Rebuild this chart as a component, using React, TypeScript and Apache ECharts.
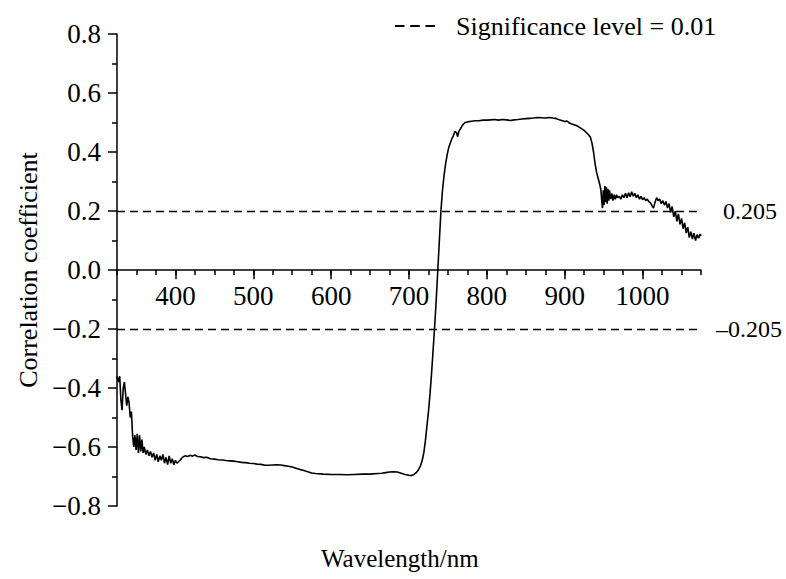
import React, { useEffect, useRef } from "react";
import * as echarts from "echarts";

const wavelengths: number[] = [
  325, 327, 328.5, 330, 331.5, 333, 334.5, 336, 337.5, 339, 340.5, 342, 343.5, 345, 346.5, 348, 349.5, 351, 352.5, 354,
  355.5, 357, 358.5, 360, 362, 364, 366, 368, 370, 372, 374, 376, 378, 380, 382, 384, 386, 388, 390, 392,
  394, 396, 398, 400, 402, 404, 406, 408, 410, 413, 416, 419, 422, 425, 428, 432, 436, 440, 445, 450,
  455, 460, 465, 470, 475, 480, 485, 490, 495, 500, 505, 510, 515, 520, 525, 530, 535, 540, 545, 550,
  555, 560, 565, 570, 575, 580, 590, 600, 610, 620, 630, 640, 650, 660, 665, 670, 675, 680, 685, 690,
  695, 700, 703, 706, 709, 712, 715, 717, 719, 721, 723, 725, 727, 729, 731, 733, 735, 737, 739, 741,
  743, 745, 747, 749, 751, 753, 755, 757, 759, 761, 762.5, 764, 766, 768, 770, 772, 775, 780, 785, 790,
  795, 800, 805, 810, 815, 820, 825, 830, 835, 840, 845, 850, 855, 860, 865, 870, 875, 880, 885, 888,
  892, 896, 900, 903, 906, 909, 912, 915, 918, 921, 924, 927, 930, 933, 935, 937, 939, 941, 943, 945,
  946.5, 947.5, 948.5, 949.5, 950.5, 951.5, 952.5, 953.5, 954.5, 955.5, 956.5, 957.5, 959, 960.5, 962, 963.5, 965, 966.5, 968, 970,
  972, 974, 976, 978, 980, 982, 984, 986, 988, 990, 992, 994, 996, 998, 1000, 1002, 1004, 1006, 1008, 1010,
  1012, 1014, 1016, 1018, 1020, 1022, 1024, 1026, 1028, 1030, 1032, 1034, 1036, 1038, 1040, 1042, 1044, 1046, 1048, 1050,
  1052, 1054, 1056, 1058, 1060, 1062, 1064, 1066, 1068, 1070, 1072, 1074, 1075,
];

const correlation: number[] = [
  -0.36, -0.38, -0.36, -0.44, -0.475, -0.4, -0.38, -0.42, -0.46, -0.43, -0.45, -0.5, -0.48, -0.56, -0.6, -0.56, -0.61, -0.555, -0.62, -0.56,
  -0.615, -0.575, -0.62, -0.6, -0.625, -0.61, -0.63, -0.615, -0.635, -0.62, -0.645, -0.625, -0.65, -0.63, -0.645, -0.625, -0.655, -0.635, -0.66, -0.63,
  -0.655, -0.64, -0.66, -0.645, -0.655, -0.65, -0.645, -0.638, -0.633, -0.63, -0.632, -0.628, -0.631, -0.627, -0.632, -0.633, -0.636, -0.635, -0.64, -0.641,
  -0.643, -0.644, -0.646, -0.647, -0.648, -0.65, -0.652, -0.653, -0.655, -0.656, -0.658, -0.659, -0.662, -0.662, -0.661, -0.66, -0.661, -0.663, -0.665, -0.668,
  -0.672, -0.676, -0.68, -0.684, -0.688, -0.69, -0.692, -0.693, -0.693, -0.694, -0.693, -0.692, -0.692, -0.69, -0.689, -0.687, -0.685, -0.684, -0.685, -0.689,
  -0.693, -0.696, -0.697, -0.694, -0.688, -0.678, -0.662, -0.645, -0.62, -0.58, -0.53, -0.48, -0.42, -0.35, -0.27, -0.19, -0.1, 0.0, 0.1, 0.2,
  0.27, 0.32, 0.36, 0.39, 0.415, 0.43, 0.445, 0.455, 0.47, 0.465, 0.452, 0.47, 0.478, 0.488, 0.495, 0.5, 0.502, 0.504, 0.506, 0.506,
  0.508, 0.508, 0.509, 0.51, 0.508, 0.51, 0.509, 0.507, 0.509, 0.51, 0.512, 0.513, 0.514, 0.515, 0.517, 0.516, 0.515, 0.517, 0.515, 0.514,
  0.51, 0.507, 0.503, 0.505, 0.498, 0.495, 0.492, 0.49, 0.485, 0.48, 0.475, 0.468, 0.46, 0.45, 0.43, 0.4, 0.36, 0.33, 0.31, 0.29,
  0.27, 0.235, 0.21, 0.27, 0.22, 0.285, 0.23, 0.28, 0.225, 0.275, 0.235, 0.27, 0.24, 0.26, 0.235, 0.255, 0.24, 0.255, 0.245, 0.25,
  0.24, 0.255, 0.245, 0.26, 0.245, 0.262, 0.248, 0.265, 0.25, 0.26, 0.245, 0.255, 0.24, 0.25, 0.238, 0.245, 0.235, 0.24, 0.232, 0.228,
  0.218, 0.21, 0.23, 0.245, 0.235, 0.24, 0.225, 0.235, 0.22, 0.232, 0.21, 0.225, 0.195, 0.215, 0.18, 0.2, 0.165, 0.19, 0.155, 0.175,
  0.14, 0.16, 0.125, 0.145, 0.11, 0.13, 0.105, 0.125, 0.1, 0.12, 0.108, 0.122, 0.115,
];

const xMajorTicks: number[] = [400, 500, 600, 700, 800, 900, 1000];
const significance: number[] = [0.205, -0.205];
const significanceLabels: string[] = ["0.205", "\u20130.205"];
const legendName = "Significance level = 0.01";

const FONT = "Liberation Serif";

export default function App() {
  const ref = useRef<HTMLDivElement>(null);

  useEffect(() => {
    if (!ref.current) return;
    const chart = echarts.init(ref.current, undefined, { renderer: "svg" });
    const data = wavelengths.map((w, i) => [w, correlation[i]]);
    const fmtY = (v: number) => {
      const s = Math.abs(v).toFixed(1);
      return v < -1e-9 ? "\u2212" + s : s;
    };
    chart.setOption({
      animation: false,
      backgroundColor: "#ffffff",
      textStyle: { fontFamily: FONT },
      title: {
        text: "Wavelength/nm",
        left: 316,
        top: 541,
        textStyle: { fontFamily: FONT, fontSize: 25, fontWeight: "normal", color: "#000" },
      },
      legend: {
        data: [legendName],
        top: 8,
        left: 390,
        icon: "path://M0,0 L10,0 L10,2 L0,2 Z M16,0 L26,0 L26,2 L16,2 Z M32,0 L42,0 L42,2 L32,2 Z",
        itemWidth: 40,
        itemHeight: 2,
        itemStyle: { color: "#000" },
        textStyle: { fontFamily: FONT, fontSize: 26, color: "#000", padding: [0, 0, 0, 16] },
      },
      grid: { left: 117, right: 85, top: 34, bottom: 73 },
      xAxis: {
        type: "value",
        min: 325,
        max: 1075,
        interval: 25,
        axisLine: { onZero: true, lineStyle: { color: "#000", width: 1.5 } },
        axisTick: { show: true, length: 5, lineStyle: { color: "#000", width: 1.5 } },
        axisLabel: { show: false },
        splitLine: { show: false },
      },
      yAxis: {
        type: "value",
        min: -0.8,
        max: 0.8,
        interval: 0.2,
        name: "Correlation coefficient",
        nameLocation: "middle",
        nameGap: 74,
        nameTextStyle: { fontFamily: FONT, fontSize: 26, color: "#000" },
        axisLine: { show: true, onZero: false, lineStyle: { color: "#000", width: 1.5 } },
        axisTick: { show: true, length: 9, lineStyle: { color: "#000", width: 1.5 } },
        minorTick: { show: true, splitNumber: 2, length: 5, lineStyle: { color: "#000", width: 1.5 } },
        axisLabel: { fontFamily: FONT, fontSize: 27, color: "#000", margin: 16, formatter: fmtY },
        splitLine: { show: false },
      },
      series: [
        {
          name: "Correlation",
          type: "line",
          data,
          symbol: "none",
          lineStyle: { color: "#000", width: 1.6 },
          markLine: {
            silent: true,
            symbol: "none",
            lineStyle: { color: "#000", width: 1.3, type: [8, 5] },
            data: significance.map((v, i) => ({
              yAxis: v,
              label: {
                show: true,
                position: "end",
                formatter: significanceLabels[i],
                fontFamily: FONT,
                fontSize: 24,
                color: "#000",
                distance: i === 0 ? 22 : 15,
              },
            })),
          },
        },
        {
          name: "major ticks",
          type: "line",
          data: [],
          symbol: "none",
          markLine: {
            silent: true,
            symbol: "none",
            lineStyle: { color: "#000", width: 1.5, type: "solid" },
            data: xMajorTicks.map((v) => [
              {
                coord: [v, 0],
                label: {
                  show: true,
                  position: "end",
                  distance: 3,
                  formatter: String(v),
                  fontFamily: FONT,
                  fontSize: 27,
                  color: "#000",
                },
              },
              { coord: [v, -0.031] },
            ]),
          },
        },
        {
          name: legendName,
          type: "line",
          data: [],
          symbol: "none",
          itemStyle: { color: "#000" },
          lineStyle: { color: "#000", width: 1.5, type: [8, 5] },
        },
      ],
    });
    return () => chart.dispose();
  }, []);

  return (
    <div
      ref={ref}
      style={{ position: "fixed", left: 0, top: 0, width: 786, height: 579 }}
    />
  );
}
